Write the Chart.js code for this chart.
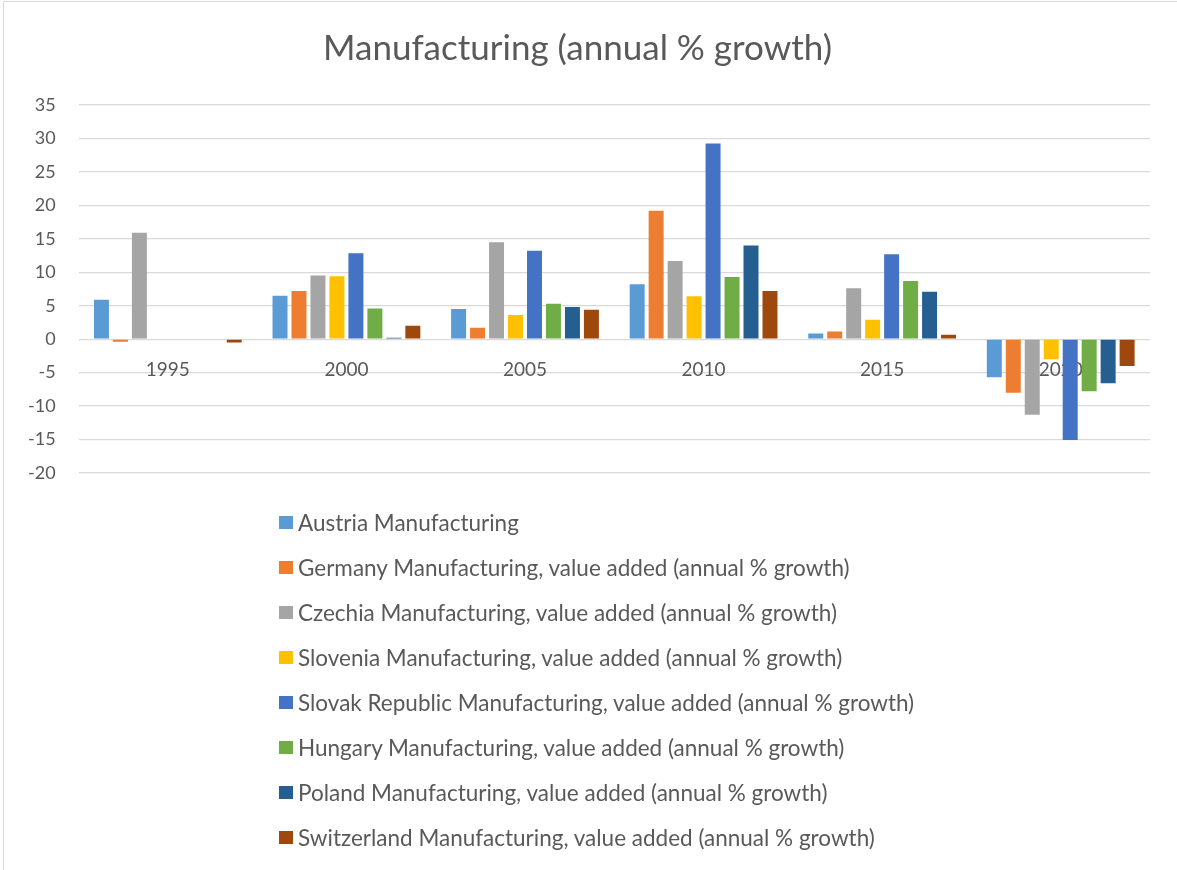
<!DOCTYPE html>
<html>
<head>
<meta charset="utf-8">
<title>Manufacturing (annual % growth)</title>
<script src="https://cdn.jsdelivr.net/npm/chart.js@4.4.0/dist/chart.umd.min.js"></script>
<style>
  html, body { margin: 0; padding: 0; background: #fff; }
  #wrap { position: relative; width: 1177px; height: 870px; overflow: hidden; }
  #frame { position: absolute; left: 3px; top: 1px; width: 1300px; height: 1000px; border: 1.5px solid #d9d9d9; }
  #chart { position: absolute; left: 0; top: 0; }
  #legend { position: absolute; left: 279px; top: 500px; margin: 0; padding: 0; list-style: none;
            font-family: Lato, "Open Sans", sans-serif; font-size: 22.5px; color: #595959; }
  #legend li { display: flex; align-items: center; height: 45px; white-space: nowrap; }
  #legend .swatch { display: inline-block; width: 14px; height: 13px; margin-right: 5px; }
</style>
</head>
<body>
<div id="wrap">
  <div id="frame"></div>
  <canvas id="chart" width="1177" height="870"></canvas>
  <ul id="legend"></ul>
</div>
<script>
// Years on the category axis
const years = ["1995", "2000", "2005", "2010", "2015", "2020"];

// Manufacturing, value added (annual % growth) per country
const austria     = [5.9, 6.5, 4.5, 8.2, 0.85, -5.7];
const germany     = [-0.4, 7.2, 1.7, 19.2, 1.15, -8.0];
const czechia     = [15.9, 9.5, 14.5, 11.7, 7.6, -11.3];
const slovenia    = [null, 9.4, 3.6, 6.4, 2.9, -3.0];
const slovakia    = [null, 12.85, 13.2, 29.25, 12.7, -15.05];
const hungary     = [null, 4.6, 5.3, 9.3, 8.7, -7.8];
const poland      = [null, 0.2, 4.8, 14.0, 7.1, -6.6];
const switzerland = [-0.5, 2.0, 4.4, 7.2, 0.65, -4.0];

const SUFFIX = " Manufacturing, value added (annual % growth)";

const series = [
  { label: "Austria Manufacturing",   data: austria,     color: "#5b9bd5" },
  { label: "Germany" + SUFFIX,        data: germany,     color: "#ed7d31" },
  { label: "Czechia" + SUFFIX,        data: czechia,     color: "#a5a5a5" },
  { label: "Slovenia" + SUFFIX,       data: slovenia,    color: "#ffc000" },
  { label: "Slovak Republic" + SUFFIX, data: slovakia,   color: "#4472c4" },
  { label: "Hungary" + SUFFIX,        data: hungary,     color: "#70ad47" },
  { label: "Poland" + SUFFIX,         data: poland,      color: "#255e91" },
  { label: "Switzerland" + SUFFIX,    data: switzerland, color: "#9e480e" },
];

const TEXT = "#595959";
const GRID = "#d9d9d9";
const FONT = "Lato, 'Open Sans', sans-serif";

// Legend is drawn as a list, one entry per line, left aligned
const htmlLegend = {
  id: "htmlLegend",
  afterUpdate(chart) {
    const list = document.getElementById("legend");
    list.innerHTML = "";
    const items = chart.options.plugins.legend.labels.generateLabels(chart);
    items.forEach((item) => {
      const li = document.createElement("li");
      const box = document.createElement("span");
      box.className = "swatch";
      box.style.background = item.fillStyle;
      const text = document.createElement("span");
      text.textContent = item.text;
      li.appendChild(box);
      li.appendChild(text);
      list.appendChild(li);
    });
  },
};

new Chart(document.getElementById("chart"), {
  type: "bar",
  data: {
    labels: years,
    datasets: series.map((s) => ({
      label: s.label,
      data: s.data,
      backgroundColor: s.color,
      borderWidth: 0,
      categoryPercentage: 0.85,
      barPercentage: 0.79,
    })),
  },
  options: {
    responsive: false,
    animation: false,
    devicePixelRatio: 1,
    layout: { padding: { left: 5, right: 27, top: 0, bottom: 397 } },
    plugins: {
      legend: { display: false },
      tooltip: { enabled: false },
      title: {
        display: true,
        text: "Manufacturing (annual % growth)",
        color: TEXT,
        font: { family: FONT, size: 35, weight: "normal", lineHeight: 1.2 },
        padding: { top: 28, bottom: 35 },
      },
    },
    scales: {
      x: {
        position: { y: 0 },
        grid: { display: false, drawTicks: false },
        border: { display: false },
        ticks: { color: TEXT, padding: 19, font: { family: FONT, size: 19 } },
      },
      y: {
        min: -20,
        max: 35,
        ticks: { stepSize: 5, color: TEXT, padding: 23, font: { family: FONT, size: 18 } },
        grid: { color: GRID, lineWidth: 1.3, drawTicks: false },
        border: { display: false },
      },
    },
  },
  plugins: [htmlLegend],
});
</script>
</body>
</html>
